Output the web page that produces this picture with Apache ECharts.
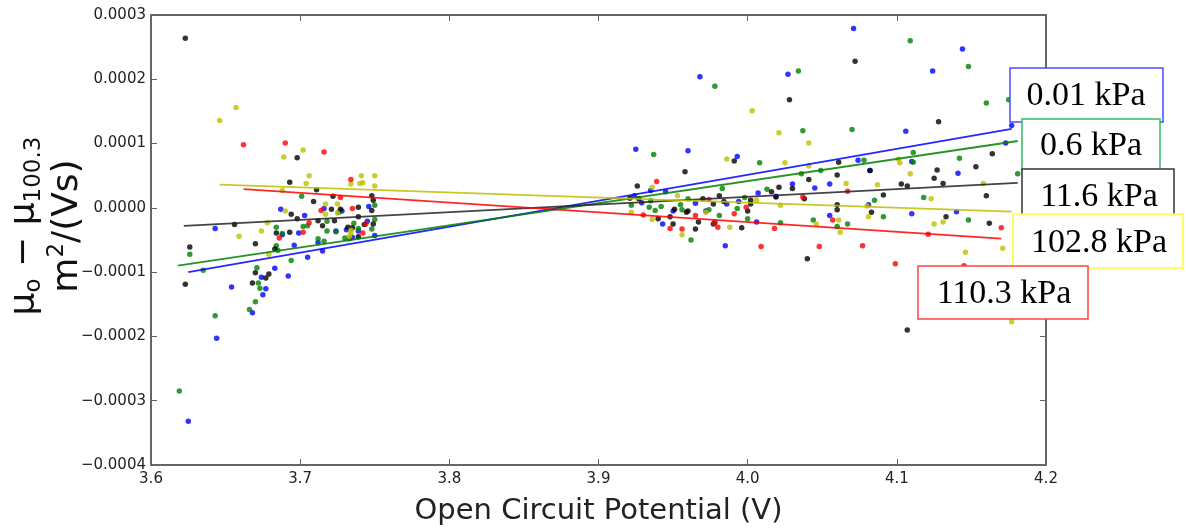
<!DOCTYPE html>
<html>
<head>
<meta charset="utf-8">
<script src="https://cdn.jsdelivr.net/npm/echarts@6/dist/echarts.min.js"></script>
<style>
html,body{margin:0;padding:0;background:#fff;}
#chart{width:1186px;height:531px;}
</style>
</head>
<body>
<div id="chart"></div>
<script>
// ---- data (x: open circuit potential V, y: mobility difference m^2/(Vs)) ----
const pressureLabels = ['0.01 kPa', '0.6 kPa', '11.6 kPa', '102.8 kPa', '110.3 kPa'];
const seriesColors = ['#0000ff', '#008000', '#000000', '#bfbf00', '#ff0000'];

const blueData = [
  [3.687,-0.000002],[3.643,-0.000032],[3.654,-0.000123],[3.644,-0.000203],[3.625,-0.000332],
  [3.674,-0.000108],[3.677,-0.000126],[3.675,-0.000135],[3.668,-0.000163],[3.683,-0.000094],
  [3.692,-0.000106],[3.696,-0.000058],[3.716,-0.000001],[3.703,-0.000012],[3.699,-0.000039],
  [3.705,-0.000077],[3.715,-0.000067],[3.712,-0.000054],[3.728,-0.000005],[3.731,-0.000034],
  [3.735,-0.000046],[3.746,0.000002],[3.745,-0.000021],[3.739,-0.000036],[3.750,-0.000043],
  [3.688,-0.000042],[3.724,-0.000036],
  [4.071,0.000279],[4.144,0.000247],[4.124,0.000213],[4.027,0.000208],[3.968,0.000204],
  [4.106,0.000119],[4.177,0.000128],[4.173,0.000101],[3.925,0.000091],[3.960,0.000089],
  [3.993,0.000080],[4.074,0.000074],[4.110,0.000072],[4.141,0.000054],[4.082,0.000058],
  [4.055,0.000037],[4.045,0.000031],[4.030,0.000037],[4.019,0.000018],[4.007,0.000023],
  [4.081,0.000005],[4.055,-0.000012],[4.110,-0.000009],[4.140,-0.000006],[3.985,-0.000059],
  [4.006,-0.000022],[3.994,0.000010],[3.986,0.000006],[3.965,0.000007],[3.950,-0.000005],
  [3.943,-0.000025],[3.935,0.000027],[3.945,0.000025],[3.924,0.000019],[3.929,0.000008],
  [3.972,-0.000005]
];
const greenData = [
  [3.619,-0.000285],[3.626,-0.000072],[3.635,-0.000097],[3.643,-0.000168],[3.671,-0.000093],
  [3.672,-0.000117],[3.673,-0.000125],[3.670,-0.000146],[3.666,-0.000158],[3.694,-0.000082],
  [3.684,-0.000030],[3.688,-0.000040],[3.684,-0.000059],[3.685,-0.000066],[3.701,0.000018],
  [3.702,-0.000029],[3.705,-0.000028],[3.718,-0.000021],[3.718,-0.000036],[3.712,-0.000048],
  [3.716,-0.000052],[3.726,-0.000007],[3.724,-0.000037],[3.730,-0.000047],[3.733,-0.000048],
  [3.736,-0.000024],[3.739,-0.000032],[3.748,-0.000033],[3.750,-0.000018],[3.750,0.000004],
  [4.109,0.000260],[4.148,0.000220],[4.034,0.000213],[3.978,0.000189],[4.160,0.000163],
  [4.175,0.000168],[4.070,0.000122],[4.037,0.000120],[3.937,0.000083],[4.008,0.000070],
  [4.078,0.000074],[4.111,0.000086],[4.111,0.000071],[4.142,0.000077],[4.181,0.000053],
  [4.118,0.000016],[4.085,0.000012],[4.049,0.000058],[4.036,0.000053],[4.013,0.000029],
  [4.091,-0.000014],[4.060,-0.000029],[4.067,-0.000025],[4.044,-0.000019],[4.148,-0.000019],
  [4.022,-0.000023],[4.000,-0.000017],[3.993,-0.000001],[3.998,0.000016],[3.983,0.000030],
  [3.981,-0.000012],[3.978,-0.000022],[3.974,-0.000003],[3.960,0.000014],[3.955,0.000005],
  [3.956,-0.000003],[3.962,-0.000050],[3.938,-0.000004],[3.942,0.000002],[3.922,0.000004],
  [3.935,0.000011],[3.934,0.000001]
];
const blackData = [
  [3.623,0.000264],[3.693,0.000040],[3.698,0.000078],[3.694,-0.000010],[3.656,-0.000026],
  [3.670,-0.000056],[3.626,-0.000061],[3.623,-0.000119],[3.670,-0.000101],[3.668,-0.000117],
  [3.677,-0.000109],[3.679,-0.000103],[3.684,-0.000039],[3.693,-0.000038],[3.683,-0.000064],
  [3.711,0.000028],[3.709,0.000010],[3.722,0.000018],[3.721,-0.000002],[3.712,-0.000020],
  [3.715,-0.000028],[3.698,-0.000017],[3.723,-0.000020],[3.727,-0.000002],[3.732,-0.000030],
  [3.735,-0.000031],[3.739,0.000001],[3.739,-0.000014],[3.748,0.000019],[3.749,0.000012],
  [3.748,-0.000004],[3.749,-0.000025],[3.739,-0.000045],[3.743,-0.000026],
  [4.072,0.000228],[4.028,0.000168],[4.128,0.000134],[3.991,0.000073],[4.061,0.000071],
  [4.164,0.000084],[4.153,0.000064],[4.127,0.000059],[4.125,0.000046],[4.131,0.000038],
  [4.103,0.000037],[4.107,0.000034],[4.160,0.000019],[4.091,0.000020],[4.082,0.000058],
  [4.060,0.000051],[4.041,0.000044],[4.030,0.000030],[4.021,0.000032],[4.016,0.000025],
  [4.019,0.000017],[4.038,0.000014],[4.060,0.000005],[4.060,-0.000003],[4.083,-0.000007],
  [4.133,-0.000014],[4.162,-0.000024],[4.040,-0.000079],[4.107,-0.000190],[3.996,-0.000031],
  [4.000,-0.000005],[4.002,0.000012],[4.002,0.000006],[3.981,0.000019],[3.984,0.000010],
  [3.977,-0.000025],[3.967,-0.000022],[3.958,0.000056],[3.959,-0.000007],[3.951,-0.000002],
  [3.965,-0.000033],[3.950,-0.000025],[3.948,-0.000014],[3.940,-0.000017],[3.926,0.000034],
  [3.921,0.000015],[3.927,0.000014],[3.970,0.000014],[3.977,0.000006],[3.960,-0.000005]
];
const yellowData = [
  [3.646,0.000136],[3.657,0.000156],[3.689,0.000079],[3.702,0.000090],[3.706,0.000050],
  [3.704,0.000038],[3.688,0.000027],[3.690,-0.000005],[3.659,-0.000044],[3.678,-0.000023],
  [3.674,-0.000036],[3.679,-0.000072],[3.717,0.000006],[3.725,0.000006],[3.717,-0.000010],
  [3.734,-0.000035],[3.734,-0.000039],[3.733,-0.000044],[3.741,0.000050],[3.740,0.000038],
  [3.742,0.000039],[3.750,0.000050],[3.750,0.000034],[3.734,0.000037],[3.725,-0.000008],
  [4.003,0.000151],[4.021,0.000117],[4.041,0.000101],[4.041,0.000065],[3.986,0.000076],
  [4.025,0.000070],[4.101,0.000076],[4.102,0.000070],[4.109,0.000053],[4.158,0.000038],
  [4.123,0.000014],[4.087,0.000036],[4.066,0.000038],[4.022,0.000004],[4.080,0.000003],
  [4.081,-0.000014],[4.061,-0.000019],[4.062,-0.000038],[4.046,-0.000025],[4.131,-0.000022],
  [4.125,-0.000025],[4.171,-0.000063],[4.146,-0.000069],[4.177,-0.000177],[3.988,-0.000030],
  [4.006,0.000012],[3.972,-0.000007],[3.953,0.000019],[3.956,-0.000042],[3.936,-0.000018],
  [3.922,-0.000007],[3.936,0.000032]
];
const redData = [
  [3.662,0.000098],[3.690,0.000101],[3.716,0.000087],[3.727,0.000016],[3.714,-0.000004],
  [3.706,-0.000023],[3.686,-0.000047],[3.702,-0.000038],[3.734,0.000044],[3.735,-0.000001],
  [3.744,-0.000025],[3.742,-0.000039],
  [4.067,0.000026],[4.037,0.000017],[4.057,-0.000019],[4.170,-0.000031],[4.121,-0.000041],
  [4.099,-0.000087],[4.145,-0.000090],[4.077,-0.000059],[4.048,-0.000060],[4.009,-0.000060],
  [4.018,-0.000032],[3.991,-0.000009],[3.999,0.000001],[3.978,-0.000024],[3.965,-0.000012],
  [3.956,-0.000033],[3.948,-0.000032],[3.930,-0.000011],[3.939,0.000041],[3.974,0.000013],
  [3.980,-0.000030]
];
// linear fit lines (endpoints)
const blueFit = [[3.625,-0.000100],[4.177,0.000123]];
const greenFit = [[3.618,-0.000090],[4.181,0.000104]];
const blackFit = [[3.622,-0.000028],[4.181,0.000039]];
const yellowFit = [[3.646,0.000036],[4.177,-0.000006]];
const redFit = [[3.662,0.000029],[4.170,-0.000048]];

const xMin = 3.6, xMax = 4.2, xStep = 0.1;
const yMin = -0.0004, yMax = 0.0003, yStep = 0.0001;

const scatterSets = [blueData, greenData, blackData, yellowData, redData];
const fitSets = [blueFit, greenFit, blackFit, yellowFit, redFit];

function fmtY(v) {
  const r = Math.round(v * 1e4);
  if (r === 0) return '0.0000';
  return (r < 0 ? '\u2212' : '') + (Math.abs(r) / 1e4).toFixed(4);
}
function fmtX(v) { return (Math.round(v * 10) / 10).toFixed(1); }

const axisColor = '#666';
const tickFont = { fontFamily: 'DejaVu Sans', fontSize: 15, color: '#222' };

function xAx(pos, showLabel) {
  return {
    type: 'value', min: xMin, max: xMax, interval: xStep, position: pos,
    axisLine: { show: true, onZero: false, lineStyle: { color: axisColor, width: 2 } },
    axisTick: { show: true, inside: true, length: 6, lineStyle: { color: axisColor, width: 1 } },
    axisLabel: Object.assign({ show: showLabel, formatter: fmtX, margin: 7 }, tickFont),
    splitLine: { show: false },
    name: showLabel ? 'Open Circuit Potential (V)' : '',
    nameLocation: 'middle', nameGap: 32,
    nameTextStyle: { fontFamily: 'DejaVu Sans', fontSize: 29, color: '#222' }
  };
}
function yAx(pos, showLabel) {
  return {
    type: 'value', min: yMin, max: yMax, interval: yStep, position: pos,
    axisLine: { show: true, onZero: false, lineStyle: { color: axisColor, width: 2 } },
    axisTick: { show: true, inside: true, length: 6, lineStyle: { color: axisColor, width: 1 } },
    axisLabel: Object.assign({ show: showLabel, formatter: fmtY, margin: 5 }, tickFont),
    splitLine: { show: false }
  };
}

const series = [];
scatterSets.forEach((d, i) => {
  series.push({
    type: 'scatter', name: pressureLabels[i], data: d,
    symbol: 'circle', symbolSize: 5.5,
    itemStyle: { color: seriesColors[i] }, z: 2
  });
});
fitSets.forEach((d, i) => {
  series.push({
    type: 'line', name: pressureLabels[i] + ' fit', data: d,
    showSymbol: false, symbol: 'none',
    lineStyle: { color: seriesColors[i] === '#000000' ? '#222' : seriesColors[i], width: 1.8, opacity: 0.85 }, z: 3
  });
});

// label boxes at the right edge (annotation)
const boxSpecs = [
  { x: 1010, y: 68, w: 153, h: 54, tx: 1086, ty: 96, stroke: '#4a4aff' },
  { x: 1022, y: 119, w: 138, h: 51, tx: 1091, ty: 146, stroke: '#35b86a' },
  { x: 1022, y: 169, w: 152, h: 53, tx: 1099, ty: 197, stroke: '#333333' },
  { x: 1013, y: 214, w: 170, h: 54, tx: 1099, ty: 243, stroke: '#ffff33' },
  { x: 918, y: 266, w: 170, h: 53, tx: 1004, ty: 294, stroke: '#ff4444' }
];
const graphics = [];
boxSpecs.forEach((b, i) => {
  graphics.push({
    type: 'group', z: 100 + i,
    children: [
      { type: 'rect', z: 100 + i, shape: { x: b.x, y: b.y, width: b.w, height: b.h },
        style: { fill: '#fff', stroke: b.stroke, lineWidth: 1.5 } },
      { type: 'text', z: 100 + i, x: b.tx, y: b.ty,
        style: { text: pressureLabels[i], fill: '#000', font: '34px "Liberation Serif", "Times New Roman", serif',
                 align: 'center', verticalAlign: 'middle' } }
    ]
  });
});
// y axis title
graphics.push({
  type: 'text', x: 46, y: 226, rotation: Math.PI / 2, z: 100,
  style: {
    text: '{a|\u03bc}{sub|o}{a| \u2212 \u03bc}{sub|100.3}\n{a|m}{sup|2}{a|/(Vs)}',
    align: 'center', verticalAlign: 'middle', fill: '#111',
    fontFamily: 'DejaVu Sans', fontSize: 36,
    rich: {
      a: { fontFamily: 'DejaVu Sans', fontSize: 36, fill: '#111', lineHeight: 43 },
      sub: { fontFamily: 'DejaVu Sans', fontSize: 23, fill: '#111', lineHeight: 22, verticalAlign: 'bottom' },
      sup: { fontFamily: 'DejaVu Sans', fontSize: 23, fill: '#111', lineHeight: 22, verticalAlign: 'top' }
    }
  }
});

const chart = echarts.init(document.getElementById('chart'), null, { renderer: 'canvas' });
chart.setOption({
  animation: false,
  backgroundColor: '#fff',
  grid: { left: 151, right: 140, top: 15, bottom: 66, containLabel: false },
  xAxis: [xAx('bottom', true), xAx('top', false)],
  yAxis: [yAx('left', true), yAx('right', false)],
  series: series,
  graphic: graphics
});
</script>
</body>
</html>
